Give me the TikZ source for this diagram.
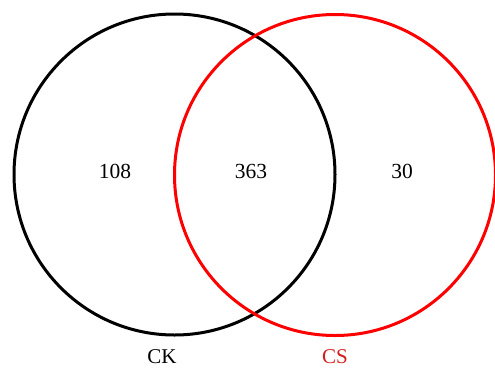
\documentclass[tikz,border=0pt]{standalone}
\usepackage{fontspec}
\setmainfont{Liberation Serif}
\usetikzlibrary{positioning}
\definecolor{SetRed}{RGB}{255,0,0}
\definecolor{LabelRed}{RGB}{210,30,30}
\tikzset{
	set/.style={circle,draw,line width=3pt,minimum size=321pt,inner sep=0pt},
	count/.style={font=\fontsize{21.5}{25}\selectfont,inner sep=1pt},
	setname/.style={font=\fontsize{21}{25}\selectfont,inner sep=1pt},
}

\begin{document}
\begin{tikzpicture}[x=1pt,y=-1pt]
	\useasboundingbox (0,0) rectangle (495,370);
	\node[set,draw=black] (ck) at (174.5,174.5) {};
	\node[set,draw=SetRed] (cs) at (335,175) {};
	% counts
	\foreach \n/\x/\v in {onlyck/115/108,both/251/363,onlycs/402/30}
	\node[count] (\n) at (\x,171) {\v};
	% set names
	\node[setname] (ckname) at (162,357) {CK};
	\node[setname,text=LabelRed] (csname) at (335,357) {CS};
\end{tikzpicture}
\end{document}
